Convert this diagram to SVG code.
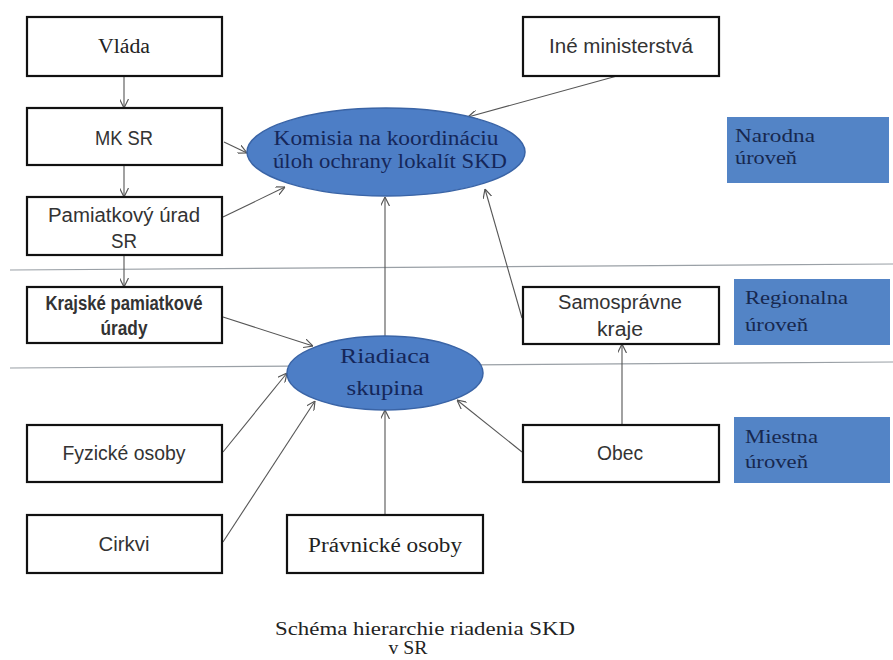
<svg xmlns="http://www.w3.org/2000/svg" width="893" height="660" viewBox="0 0 893 660">
<style>
.box{fill:#fff;stroke:#111;stroke-width:2.2}
.bt{font-family:"Liberation Sans",Arial,sans-serif;font-size:19.5px;fill:#333;text-anchor:middle}
.st{font-family:"Liberation Serif","Times New Roman",serif;font-size:20px;fill:#222;text-anchor:middle}
.ell{fill:#4d7ec6;stroke:#3a64a6;stroke-width:1.5}
.et{font-family:"Liberation Serif","Times New Roman",serif;font-size:20px;fill:#15275a;text-anchor:middle}
.lvl{fill:#5384c6}
.lt{font-family:"Liberation Serif","DejaVu Serif","Times New Roman",serif;font-size:18px;fill:#17284f}
.sep{stroke:#9aa0a6;stroke-width:1.2}
.con{stroke:#555;stroke-width:1.1;fill:none;marker-end:url(#arr)}
.cap{font-family:"Liberation Serif","Times New Roman",serif;font-size:19px;fill:#222;text-anchor:middle}
</style>
<defs>
<marker id="arr" viewBox="0 0 10 10" refX="10" refY="5" markerWidth="9" markerHeight="9" markerUnits="userSpaceOnUse" orient="auto">
<path d="M0,0 L10,5 L0,10" fill="none" stroke="#555" stroke-width="1.3"/>
</marker>
</defs>
<rect width="893" height="660" fill="#fff"/>
<g id="separators">
<line class="sep" x1="10" y1="270" x2="893" y2="264"/>
<line class="sep" x1="10" y1="368" x2="893" y2="362"/>
</g>
<g id="connectors">
<line class="con" x1="124" y1="76" x2="124" y2="108"/>
<line class="con" x1="124" y1="165" x2="124" y2="197"/>
<line class="con" x1="124" y1="255" x2="124" y2="287"/>
<line class="con" x1="224" y1="142" x2="247" y2="153"/>
<line class="con" x1="223" y1="217" x2="285" y2="187"/>
<line class="con" x1="617" y1="76" x2="468" y2="117"/>
<line class="con" x1="522" y1="318" x2="485" y2="189"/>
<line class="con" x1="385" y1="336" x2="385" y2="197"/>
<line class="con" x1="223" y1="317" x2="313" y2="346"/>
<line class="con" x1="223" y1="452" x2="287" y2="373"/>
<line class="con" x1="223" y1="542" x2="315" y2="401"/>
<line class="con" x1="385" y1="515" x2="385" y2="410"/>
<line class="con" x1="522" y1="452" x2="457" y2="400"/>
<line class="con" x1="622" y1="425" x2="622" y2="344"/>
</g>
<g id="vlada"><rect class="box" x="27" y="17" width="195" height="59"/><text class="st" x="124" y="53" textLength="52" lengthAdjust="spacingAndGlyphs">Vláda</text></g>
<g id="mksr"><rect class="box" x="27" y="108" width="195" height="57"/><text class="bt" x="124" y="145" textLength="58" lengthAdjust="spacingAndGlyphs">MK SR</text></g>
<g id="pamiatkovy"><rect class="box" x="27" y="197" width="195" height="58"/><text class="bt" x="124" y="222" textLength="152" lengthAdjust="spacingAndGlyphs">Pamiatkový úrad</text><text class="bt" x="124" y="248" textLength="26" lengthAdjust="spacingAndGlyphs">SR</text></g>
<g id="ine"><rect class="box" x="523" y="17" width="196" height="59"/><text class="bt" x="621" y="53" textLength="144" lengthAdjust="spacingAndGlyphs">Iné ministerstvá</text></g>
<g id="komisia"><ellipse class="ell" cx="386" cy="152" rx="139" ry="44"/><text class="et" x="386" y="145" textLength="225" lengthAdjust="spacingAndGlyphs">Komisia na koordináciu</text><text class="et" x="390" y="168" textLength="234" lengthAdjust="spacingAndGlyphs">úloh ochrany lokalít SKD</text></g>
<g id="narodna"><rect class="lvl" x="727" y="117" width="162" height="66"/><text class="lt" x="735" y="142" textLength="80" lengthAdjust="spacingAndGlyphs">Narodna</text><text class="lt" x="735" y="164" textLength="62" lengthAdjust="spacingAndGlyphs">úroveň</text></g>
<g id="krajske"><rect class="box" x="27" y="287" width="195" height="56"/><text class="bt" x="124" y="310" font-weight="bold" textLength="157" lengthAdjust="spacingAndGlyphs">Krajské pamiatkové</text><text class="bt" x="124" y="335" font-weight="bold" textLength="47" lengthAdjust="spacingAndGlyphs">úrady</text></g>
<g id="samospravne"><rect class="box" x="523" y="287" width="196" height="57"/><text class="bt" x="620" y="309" textLength="124" lengthAdjust="spacingAndGlyphs">Samosprávne</text><text class="bt" x="620" y="336" textLength="46" lengthAdjust="spacingAndGlyphs">kraje</text></g>
<g id="regionalna"><rect class="lvl" x="734" y="279" width="156" height="66"/><text class="lt" x="745" y="304" textLength="103" lengthAdjust="spacingAndGlyphs">Regionalna</text><text class="lt" x="745" y="331" textLength="63" lengthAdjust="spacingAndGlyphs">úroveň</text></g>
<g id="riadiaca"><ellipse class="ell" cx="385" cy="373" rx="98" ry="37"/><text class="et" x="385" y="363" font-size="22" textLength="90" lengthAdjust="spacingAndGlyphs">Riadiaca</text><text class="et" x="385" y="395" font-size="22" textLength="77" lengthAdjust="spacingAndGlyphs">skupina</text></g>
<g id="fyzicke"><rect class="box" x="27" y="425" width="195" height="57"/><text class="bt" x="124" y="460" textLength="123" lengthAdjust="spacingAndGlyphs">Fyzické osoby</text></g>
<g id="obec"><rect class="box" x="523" y="425" width="196" height="57"/><text class="bt" x="620" y="460" textLength="46" lengthAdjust="spacingAndGlyphs">Obec</text></g>
<g id="miestna"><rect class="lvl" x="734" y="417" width="156" height="66"/><text class="lt" x="745" y="443" textLength="73" lengthAdjust="spacingAndGlyphs">Miestna</text><text class="lt" x="745" y="468" textLength="63" lengthAdjust="spacingAndGlyphs">úroveň</text></g>
<g id="cirkvi"><rect class="box" x="27" y="515" width="195" height="58"/><text class="bt" x="124" y="551" textLength="51" lengthAdjust="spacingAndGlyphs">Cirkvi</text></g>
<g id="pravnicke"><rect class="box" x="287" y="515" width="196" height="58"/><text class="st" x="385" y="552" textLength="154" lengthAdjust="spacingAndGlyphs">Právnické osoby</text></g>
<g id="caption"><text class="cap" x="425" y="635" textLength="300" lengthAdjust="spacingAndGlyphs">Schéma hierarchie riadenia SKD</text><text class="cap" x="408" y="654" textLength="39" lengthAdjust="spacingAndGlyphs">v SR</text></g>
</svg>
